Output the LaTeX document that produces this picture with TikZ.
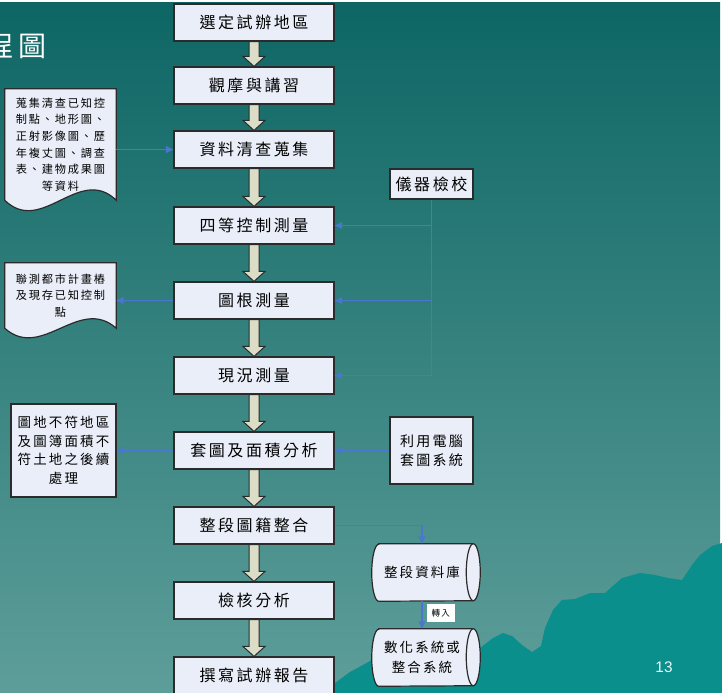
\documentclass[tikz,border=0pt]{standalone}
\usepackage{fontspec}
\usetikzlibrary{arrows.meta,calc}
\newfontfamily\cjk[LetterSpace=16]{Noto Sans CJK TC}
\newfontfamily\pagefont{Liberation Sans}
\definecolor{boxfill}{HTML}{E9EEF8}
\definecolor{boxline}{HTML}{2B2B2B}
\definecolor{arrowfill}{HTML}{DCDDC6}
\definecolor{linkblue}{HTML}{4A76D0}
\definecolor{bgtop}{HTML}{0D6664}
\definecolor{bgmid}{HTML}{3C7E7B}
\definecolor{bgbot}{HTML}{5E9E9A}
\definecolor{hills}{HTML}{0A8F8C}
\pgfdeclarelayer{backdrop}
\pgfdeclarelayer{docs}
\pgfsetlayers{backdrop,docs,main}

\begin{document}
\begin{tikzpicture}[x=0.75pt,y=-0.75pt,
    stepbox/.style={draw=boxline, fill=boxfill, line width=0.9pt, minimum width=120pt,
      minimum height=27.75pt, inner sep=0pt, font=\cjk\fontsize{12pt}{14pt}\selectfont},
    sidebox/.style={draw=boxline, fill=boxfill, line width=0.9pt, inner sep=0pt, align=center},
    doctext/.style={inner sep=0pt, align=center, minimum width=83.25pt,
      font=\cjk\fontsize{8.4pt}{12.4pt}\selectfont},
    docshape/.style={draw=boxline, fill=boxfill, line width=0.9pt},
    store/.style={inner sep=0pt, align=center, minimum width=64.5pt, minimum height=42.75pt,
      font=\cjk\fontsize{10.1pt}{15pt}\selectfont},
    endcap/.style={x radius=5.25pt, y radius=21.375pt},
    flowarrow/.style={draw=boxline, fill=arrowfill, line width=0.75pt},
    link/.style={draw=linkblue, line width=1.1pt, -{Triangle[length=5.5pt,width=5pt]}},
    transfer/.style={fill=white, minimum width=21pt, minimum height=13.5pt, inner sep=0pt,
      font=\cjk\fontsize{6.4pt}{8pt}\selectfont}]
    \clip (0,0) rectangle (722,693);

    % slide background
    \begin{pgfonlayer}{backdrop}
    \fill[white] (0,0) rectangle (722,693);
    \fill[top color=bgtop, middle color=bgmid, bottom color=bgbot] (0,2) rectangle (720,693);
    \fill[hills] (330,693) -- (335,683) -- (350,672) -- (372,660) -- (400,652) -- (480,648)
      -- (493,638) -- (503,633) -- (512,636) -- (522,645) -- (532,652) -- (541,646)
      -- (545,628) -- (553,610) -- (562,600) -- (575,599) -- (590,593) -- (605,593)
      -- (614,585) -- (622,578) -- (640,573) -- (655,575) -- (668,578) -- (682,580)
      -- (692,565) -- (700,555) -- (712,546) -- (722,543) -- (722,693) -- cycle;
    \end{pgfonlayer}
    \node[anchor=east, text=white, font=\cjk\fontsize{21pt}{24pt}\selectfont] (heading) at (51,46) {程圖};
    \node[text=white!90!bgbot, font=\pagefont\fontsize{11.5pt}{13pt}\selectfont] (pageno) at (664,667) {13};

    % main steps
    \node[stepbox] (select) at (254,22.5) {選定試辦地區};
    \node[stepbox] (train) at (254,85.5) {觀摩與講習};
    \node[stepbox] (collect) at (254,149.5) {資料清查蒐集};
    \node[stepbox] (fourth) at (254,225.5) {四等控制測量};
    \node[stepbox] (traverse) at (254,300.5) {圖根測量};
    \node[stepbox] (detail) at (254,375.5) {現況測量};
    \node[stepbox] (overlay) at (254,450.5) {套圖及面積分析};
    \node[stepbox] (merge) at (254,525.5) {整段圖籍整合};
    \node[stepbox] (check) at (254,600.5) {檢核分析};
    \node[stepbox] (report) at (254,675.5) {撰寫試辦報告};

    \foreach \a/\b in {select/train, train/collect, collect/fourth, fourth/traverse,
        traverse/detail, detail/overlay, overlay/merge, merge/check, check/report}
      \draw[flowarrow] let \p1=(\a.south), \p2=(\b.north) in
        (\x1-3.75pt,\y1) -- (\x1+3.75pt,\y1) -- (\x1+3.75pt,\y2+7.5pt) -- (\x1+8.25pt,\y2+7.5pt)
        -- (\x1,\y2) -- (\x1-8.25pt,\y2+7.5pt) -- (\x1-3.75pt,\y2+7.5pt) -- cycle;

    % left side
    \node[doctext, minimum height=83.25pt] (sources) at (60.5,144.5)
      {蒐集清查已知控\\制點、地形圖、\\正射影像圖、歷\\年複丈圖、調查\\表、建物成果圖\\等資料};
    \node[doctext, minimum height=48.75pt] (citypts) at (60.5,295.5)
      {聯測都市計畫樁\\及現存已知控制\\點};
    \node[sidebox, minimum width=78.75pt, minimum height=69.75pt,
      font=\cjk\fontsize{10.1pt}{14pt}\selectfont] (mismatch) at (63.5,450.5)
      {圖地不符地區\\及圖簿面積不\\符土地之後續\\處理};

    % right side
    \node[sidebox, minimum width=62.25pt, minimum height=22.5pt,
      font=\cjk\fontsize{12pt}{14pt}\selectfont] (calib) at (431.5,184) {儀器檢校};
    \node[sidebox, minimum width=62.25pt, minimum height=50.25pt,
      font=\cjk\fontsize{10.5pt}{14.25pt}\selectfont] (cadsys) at (431.5,450.5) {利用電腦\\套圖系統};
    \node[store] (sectdb) at (422,572.5) {整段資料庫};
    \node[store] (digisys) at (422,657.5) {數化系統或\\整合系統};

    % document and drum outlines
    \begin{pgfonlayer}{docs}
    \draw[docshape] (sources.north west) -- (sources.north east) -- (sources.south east)
      .. controls ($(sources.south east)+(-37,-36)$) and ($(sources.south west)+(37,36)$)
      .. (sources.south west) -- cycle;
    \draw[docshape] (citypts.north west) -- (citypts.north east) -- (citypts.south east)
      .. controls ($(citypts.south east)+(-37,-33)$) and ($(citypts.south west)+(37,33)$)
      .. (citypts.south west) -- cycle;
    \foreach \d in {sectdb, digisys} {
      \draw[docshape] (\d.north west) -- ($(\d.north east)+(8,0)$)
        arc[start angle=90, end angle=-90, endcap] -- (\d.south west)
        arc[start angle=270, end angle=90, endcap] -- cycle;
      \draw[boxline, line width=0.9pt] ($(\d.north east)+(8,0)$)
        arc[start angle=90, end angle=270, endcap];
    }
    \end{pgfonlayer}

    % connectors
    \draw[link] (sources.east |- collect.west) -- (collect.west);
    \draw[link] (traverse.west) -- (citypts.east |- traverse.west);
    \draw[link] (overlay.west) -- (mismatch.east |- overlay.west);
    \draw[link] (calib.south) |- (fourth.east);
    \draw[link] (calib.south) |- (traverse.east);
    \draw[link] (calib.south) |- (detail.east);
    \draw[link] (cadsys.west) -- (overlay.east);
    \draw[link] (merge.east) -| (sectdb.north);
    \draw[link] (sectdb.south) -- (digisys.north)
      node[midway, anchor=west, xshift=3pt, yshift=1.5pt, transfer] (xfer) {轉入};
\end{tikzpicture}
\end{document}
